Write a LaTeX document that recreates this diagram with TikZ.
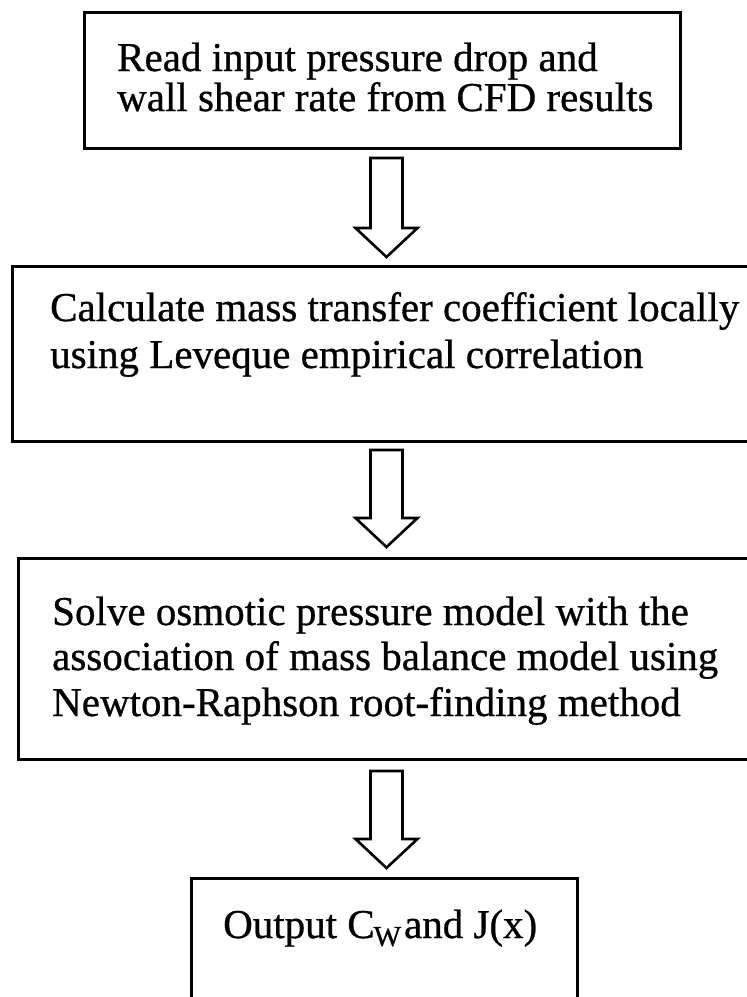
\documentclass[tikz,border=0pt]{standalone}
\usepackage{fontspec}
\setmainfont{Liberation Serif}
\usetikzlibrary{calc}

\tikzset{
  stepbox/.style={draw, line width=3pt, rectangle, inner sep=0pt, anchor=north west},
  steptext/.style={anchor=base west, inner sep=0pt,
    font=\fontsize{41}{44}\selectfont\addfontfeature{FakeBold=0.7}},
  flowarrow/.style={draw, line width=2.6pt, line join=miter, fill=white},
}

% hollow block arrow pointing down: #1 = top of shaft, #2 = tip
\newcommand\hollowdown[2]{%
  \draw[flowarrow] ($(#1)+(-16,0)$) -- ($(#1)+(16,0)$) -- ($(#2)+(16,-29)$)
    -- ($(#2)+(31,-29)$) -- (#2) -- ($(#2)+(-31,-29)$) -- ($(#2)+(-16,-29)$) -- cycle;}

\begin{document}
\begin{tikzpicture}[x=1pt,y=-1pt]
\useasboundingbox (0,0) rectangle (747,997);

% process boxes
\node[stepbox, minimum width=596pt, minimum height=136pt] (read) at (83,11) {};
\node[stepbox, minimum width=741pt, minimum height=175pt] (calc) at (11,265) {};
\node[stepbox, minimum width=735pt, minimum height=201pt] (solve) at (17,557) {};
\node[stepbox, minimum width=386pt, minimum height=140pt] (output) at (190,877) {};

% box texts
\node[steptext] (read1) at (117,71) {Read input pressure drop and};
\node[steptext] (read2) at (117,111) {wall shear rate from CFD results};
\node[steptext] (calc1) at (50,321) {Calculate mass transfer coefficient locally};
\node[steptext] (calc2) at (50,368) {using Leveque empirical correlation};
\node[steptext] (solve1) at (52,625) {Solve osmotic pressure model with the};
\node[steptext] (solve2) at (52,670) {association of mass balance model using};
\node[steptext] (solve3) at (52,716) {Newton-Raphson root-finding method};
\node[steptext] (out1) at (223,938) {Output C\kern-1pt\raisebox{-8pt}{\fontsize{29}{29}\selectfont\addfontfeature{FakeBold=0.7}W}\kern3pt and J(x)};

% connectors between the steps
\path ($(read.south)+(4,8)$) coordinate (a1s);
\path ($(calc.north)+(3.5,-8)$) coordinate (a1t);
\path ($(calc.south)+(3.5,7)$) coordinate (a2s);
\path ($(solve.north)+(0.5,-10)$) coordinate (a2t);
\path ($(solve.south)+(0.5,10)$) coordinate (a3s);
\path ($(output.north)+(2,-9)$) coordinate (a3t);

\hollowdown{a1s}{a1t}
\hollowdown{a2s}{a2t}
\hollowdown{a3s}{a3t}
\end{tikzpicture}
\end{document}
